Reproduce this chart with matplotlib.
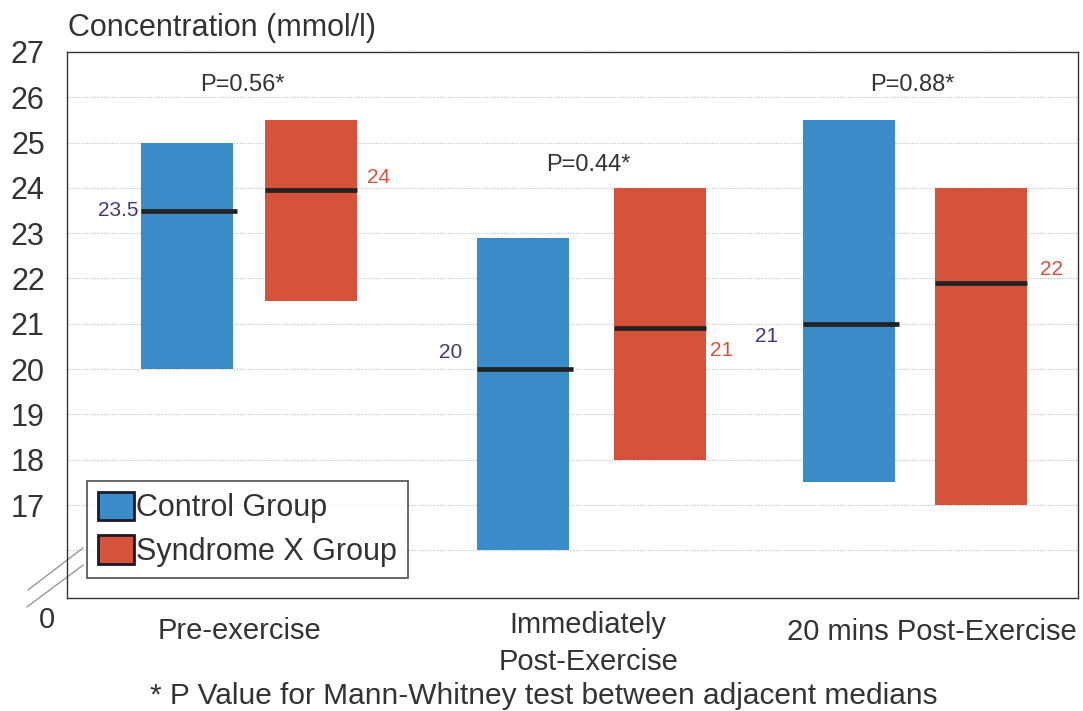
import matplotlib.pyplot as plt
from matplotlib.patches import Patch
from matplotlib.lines import Line2D

plt.rcParams['font.family'] = ['Liberation Sans', 'DejaVu Sans']

# data
phases = ["Pre-exercise", "Immediately\nPost-Exercise", "20 mins Post-Exercise"]
control_low = [20.0, 16.0, 17.5]
control_high = [25.0, 22.9, 25.5]
control_median = [23.5, 20.0, 21.0]
control_labels = ["23.5", "20", "21"]
sx_low = [21.5, 18.0, 17.0]
sx_high = [25.5, 24.0, 24.0]
sx_median = [23.95, 20.9, 21.9]
sx_labels = ["24", "21", "22"]
p_values = ["P=0.56*", "P=0.44*", "P=0.88*"]

blue = "#3a8bc8"
red = "#d4533a"
txt = "#333333"

# layout: bar centres (category units, group spacing ~1)
ctrl_x = [-0.186, 0.823, 1.802]
sx_x = [0.185, 1.233, 2.198]
w = 0.276

fig = plt.figure(figsize=(10.83, 7.11), dpi=100)
ax = fig.add_axes([0.0619, 0.159, 0.9335, 0.768])

for i in range(3):
    ax.bar(ctrl_x[i], control_high[i] - control_low[i], bottom=control_low[i],
           width=w, color=blue, zorder=2)
    ax.bar(sx_x[i], sx_high[i] - sx_low[i], bottom=sx_low[i],
           width=w, color=red, zorder=2)
    ax.plot([ctrl_x[i] - w / 2, ctrl_x[i] + w / 2 + 0.01], [control_median[i]] * 2,
            color="#222222", lw=3.4, zorder=3, solid_capstyle="butt")
    ax.plot([sx_x[i] - w / 2, sx_x[i] + w / 2], [sx_median[i]] * 2,
            color="#222222", lw=3.4, zorder=3, solid_capstyle="butt")

# median labels
c_dx = [-0.008, -0.045, -0.075]
c_dy = [0.0, 0.36, -0.29]
s_dx = [0.03, 0.013, 0.04]
s_dy = [0.27, -0.48, 0.29]
for i in range(3):
    ax.text(ctrl_x[i] - w / 2 + c_dx[i], control_median[i] + c_dy[i], control_labels[i],
            ha="right", va="center", fontsize=15, color="#3e3a78")
    ax.text(sx_x[i] + w / 2 + s_dx[i], sx_median[i] + s_dy[i], sx_labels[i],
            ha="left", va="center", fontsize=15, color=red)

p_x = [-0.021, 1.018, 1.991]
p_y = [26.27, 24.5, 26.27]
for i in range(3):
    ax.text(p_x[i], p_y[i], p_values[i], ha="center", va="center",
            fontsize=17, color=txt)

ax.set_xlim(-0.547, 2.489)
ax.set_ylim(14.95, 27)
ax.set_yticks(range(16, 28))
ax.set_yticklabels([""] + [str(v) for v in range(17, 28)], fontsize=22, color=txt)
ax.set_xticks([])
ax.tick_params(length=0, pad=16)
ax.grid(axis="y", color="#bbbbbb", linestyle=(0, (1, 1.5)), lw=0.8, zorder=0)
for s in ax.spines.values():
    s.set_color("#333333")
    s.set_linewidth(1.0)

# x category labels
lab_x = [-0.0285, 1.018, 2.051]
lab_y = [14.52, 14.66, 14.5]
for i in range(3):
    ax.text(lab_x[i], lab_y[i], phases[i], ha="center", va="top", fontsize=21,
            color=txt, linespacing=1.4)

ax.text(-0.582, 14.47, "0", ha="right", va="center", fontsize=21, color=txt)
fig.text(0.0628, 0.9606, "Concentration (mmol/l)", ha="left", va="center",
         fontsize=22, color=txt)
fig.text(0.502, 0.021, "* P Value for Mann-Whitney test between adjacent medians",
         ha="center", va="center", fontsize=21.5, color=txt)

# axis break marks
ax.add_line(Line2D([-0.0386, 0.0158], [0.0147, 0.0916], transform=ax.transAxes,
                   color="#999999", lw=1.0, clip_on=False))
ax.add_line(Line2D([-0.0396, 0.0158], [-0.0165, 0.060], transform=ax.transAxes,
                   color="#999999", lw=1.0, clip_on=False))

handles = [Patch(facecolor=blue, edgecolor="#1a1a2a", lw=2),
           Patch(facecolor=red, edgecolor="#1a1a2a", lw=2)]
leg = ax.legend(handles, ["Control Group", "Syndrome X Group"], loc="lower left",
                bbox_to_anchor=(0.0198, 0.037), fontsize=22, frameon=True,
                fancybox=False, handlelength=1.2, handleheight=1.05,
                handletextpad=0.05, borderpad=0.35, labelspacing=0.4,
                borderaxespad=0, labelcolor=txt)
leg.get_frame().set_edgecolor("#222222")
leg.get_frame().set_linewidth(1.2)

fig.savefig("out.png", dpi=100)
